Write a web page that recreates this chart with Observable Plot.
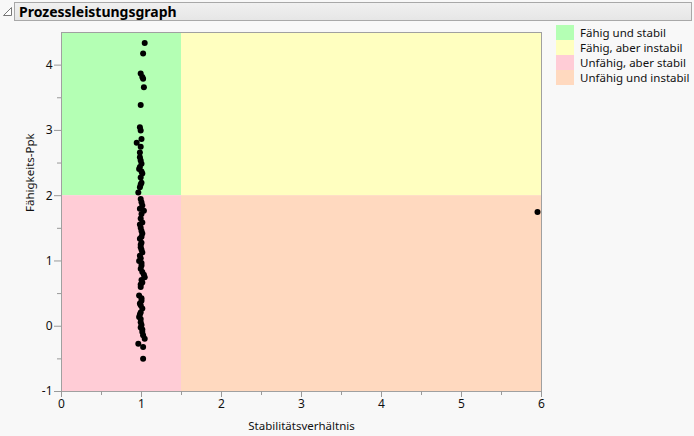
<!DOCTYPE html>
<html>
<head>
<meta charset="utf-8">
<script src="https://cdn.jsdelivr.net/npm/d3@7"></script>
<script src="https://cdn.jsdelivr.net/npm/@observablehq/plot@0.6"></script>
<style>
  html, body { margin: 0; padding: 0; background: #f8f8f8; width: 694px; height: 436px; overflow: hidden; font-family: "Noto Sans", sans-serif; }
  #titlebar { position: absolute; left: 14px; top: 2px; width: 678px; height: 19px; border: 1px solid #a8a8a8; background: linear-gradient(#f0f0f0, #e6e6e6); box-sizing: border-box; }
  #titlebar span { position: absolute; left: 4px; top: 0px; font-weight: bold; font-size: 14px; line-height: 18px; color: #000; }
  #tri { position: absolute; left: 3px; top: 7px; }
  #chart { position: absolute; left: 0; top: 25px; }
  #legend { position: absolute; left: 556px; top: 25px; font-size: 11.5px; color: #111; }
  .row { height: 15px; display: flex; align-items: center; }
  .sw { width: 18px; height: 15px; margin-right: 6px; }
</style>
</head>
<body>
<svg id="tri" width="10" height="10"><path d="M8.5,0.5 L8.5,8.5 L0.5,8.5 Z" fill="#fff" stroke="#777"/></svg>
<div id="titlebar"><span>Prozessleistungsgraph</span></div>
<div id="chart"></div>
<div id="legend"></div>
<script>
// Data
const stabilityRatio = [
  1.04, 1.02, 0.99, 1.01, 1.02, 1.03, 0.99, 0.98, 0.99, 1.00, 0.94, 0.99, 0.98, 0.98, 0.99, 1.00, 0.98, 0.97, 1.00, 1.01, 0.99, 1.00, 0.99, 0.98, 0.96,
  0.99, 1.00, 1.01, 0.98, 1.03, 1.00, 0.99, 1.01, 0.98, 0.99, 1.00, 1.01, 1.00, 0.98, 1.00, 0.99, 0.99, 1.00, 1.01, 0.98, 0.99, 0.97, 1.00, 1.00, 0.99,
  1.01, 1.03, 1.04, 1.00, 1.01, 0.99, 0.99, 0.97, 1.00, 1.00, 0.98, 0.99, 1.01, 0.99, 0.98, 0.97, 0.99, 0.99, 1.00, 0.99, 1.01, 1.01, 1.02, 1.04, 0.96,
  1.02, 1.02, 5.95
];
const ppk = [
  4.34, 4.18, 3.87, 3.82, 3.79, 3.66, 3.39, 3.05, 3.00, 2.87, 2.81, 2.75, 2.66, 2.59, 2.54, 2.49, 2.44, 2.41, 2.37, 2.34, 2.28, 2.20, 2.17, 2.13, 2.05,
  1.95, 1.90, 1.85, 1.80, 1.77, 1.72, 1.65, 1.59, 1.56, 1.51, 1.46, 1.42, 1.37, 1.34, 1.28, 1.25, 1.21, 1.17, 1.13, 1.08, 1.04, 1.00, 0.97, 0.93, 0.88,
  0.83, 0.79, 0.75, 0.71, 0.67, 0.64, 0.60, 0.47, 0.43, 0.39, 0.35, 0.32, 0.27, 0.21, 0.18, 0.14, 0.11, 0.06, 0.02, -0.02, -0.05, -0.09, -0.14, -0.19, -0.27,
  -0.32, -0.50, 1.75
];
const regionNames = ["Fähig und stabil", "Fähig, aber instabil", "Unfähig, aber stabil", "Unfähig und instabil"];
const regionColors = ["#b4ffb4", "#ffffc0", "#ffccd6", "#ffd9bf"];
const stabilityLimit = 1.5;
const ppkLimit = 2;
const xDomain = [0, 6];
const yDomain = [-1, 4.5];
const xTicks = [0, 1, 2, 3, 4, 5, 6];
const yTicks = [-1, 0, 1, 2, 3, 4];
const xMinor = [0.5, 1.5, 2.5, 3.5, 4.5, 5.5];
const yMinor = [-0.5, 0.5, 1.5, 2.5, 3.5];

const points = stabilityRatio.map((x, i) => ({x, y: ppk[i]}));
const regions = [
  {name: regionNames[0], x1: xDomain[0], x2: stabilityLimit, y1: ppkLimit, y2: yDomain[1]},
  {name: regionNames[1], x1: stabilityLimit, x2: xDomain[1], y1: ppkLimit, y2: yDomain[1]},
  {name: regionNames[2], x1: xDomain[0], x2: stabilityLimit, y1: yDomain[0], y2: ppkLimit},
  {name: regionNames[3], x1: stabilityLimit, x2: xDomain[1], y1: yDomain[0], y2: ppkLimit}
];

const intFmt = d => String(d).replace("-", "-");

const chart = Plot.plot({
  width: 550,
  height: 411,
  marginLeft: 61,
  marginRight: 9,
  marginTop: 7,
  marginBottom: 45,
  style: {background: "transparent", fontFamily: "Noto Sans, sans-serif", fontSize: "11.5px", color: "#111"},
  x: {domain: xDomain, label: null},
  y: {domain: yDomain, label: null},
  color: {domain: regionNames, range: regionColors},
  marks: [
    Plot.rect(regions, {x1: "x1", x2: "x2", y1: "y1", y2: "y2", fill: "name"}),
    Plot.dot(points, {x: "x", y: "y", r: 3, fill: "black", stroke: null}),
    Plot.frame({stroke: "#a0a0a0"}),
    Plot.axisX(xTicks, {tickSize: 6, tickPadding: 2, stroke: "#999", fontSize: 12, fill: "#111", tickFormat: intFmt}),
    Plot.axisX(xMinor, {tickSize: 4, tickFormat: () => "", stroke: "#999"}),
    Plot.axisY(yTicks, {tickSize: 7, tickPadding: 2, stroke: "#999", fontSize: 12, fill: "#111", tickFormat: intFmt}),
    Plot.axisY(yMinor, {tickSize: 4, tickFormat: () => "", stroke: "#999"}),
    Plot.text(["Stabilitätsverhältnis"], {frameAnchor: "bottom", dy: 38, fontSize: 11.5, fill: "#111"}),
    Plot.text(["Fähigkeits-Ppk"], {frameAnchor: "left", dx: -31, rotate: -90, fontSize: 11.5, fill: "#111"})
  ]
});
document.getElementById("chart").appendChild(chart);

const legend = document.getElementById("legend");
regionNames.forEach((n, i) => {
  const row = document.createElement("div");
  row.className = "row";
  row.innerHTML = `<div class="sw" style="background:${regionColors[i]}"></div><span>${n}</span>`;
  legend.appendChild(row);
});
</script>
</body>
</html>
